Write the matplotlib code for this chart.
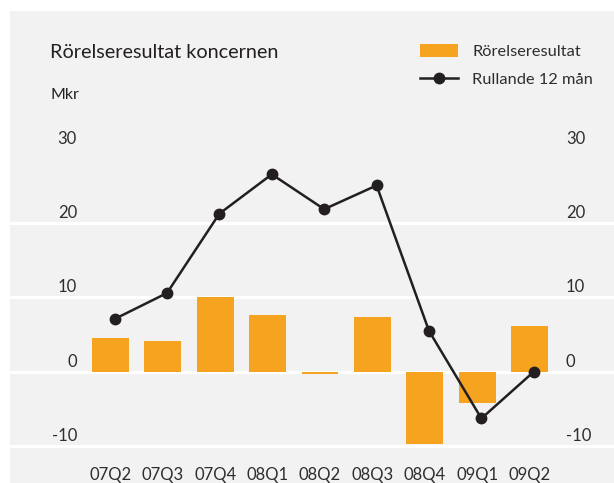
import matplotlib
matplotlib.use("Agg")
import matplotlib.pyplot as plt
import numpy as np
from matplotlib.transforms import ScaledTranslation
from matplotlib.patches import Patch
from matplotlib.lines import Line2D

plt.rcParams['font.family'] = ['Lato', 'DejaVu Sans']

quarters = ["07Q2", "07Q3", "07Q4", "08Q1", "08Q2", "08Q3", "08Q4", "09Q1", "09Q2"]
rorelseresultat = [4.5, 4.1, 10.1, 7.7, -0.3, 7.4, -9.7, -4.2, 6.2]
rullande_12 = [7.1, 10.6, 21.3, 26.6, 21.9, 25.1, 5.5, -6.3, 0.0]
yticks = [-10, 0, 10, 20, 30]
gridlines = [-10, 0, 10, 20]

title = "Rörelseresultat koncernen"
unit = "Mkr"
bar_label = "Rörelseresultat"
line_label = "Rullande 12 mån"

ORANGE = "#F6A41F"
BG = "#F2F2F2"
DARK = "#231F20"
TXT = "#2E2E2E"

W, H = 614, 483
fig = plt.figure(figsize=(W / 100, H / 100), dpi=100, facecolor="white")
# gray panel (pixels: x 10..614, y 11..483 from top)
AX_L = 10
ax = fig.add_axes([AX_L / W, 0, 1 - AX_L / W, (H - 11) / H])
ax.set_facecolor(BG)
for s in ax.spines.values():
    s.set_visible(False)

x = np.arange(len(quarters))
px_x = 52.4
xmin = -(110.4 - AX_L) / px_x
ax.set_xlim(xmin, xmin + (W - AX_L) / px_x)
px_y = 7.42
ax.set_ylim(-(483 - 371.7) / px_y, (371.7 - 11) / px_y)

for g in gridlines:
    ax.axhline(g, color="white", lw=2.2, zorder=1)

ax.bar(x, rorelseresultat, width=0.70, color=ORANGE, zorder=2)
ax.plot(x + 0.08, rullande_12, color=DARK, lw=1.8, marker="o", ms=7.5,
        markerfacecolor=DARK, markeredgecolor=DARK, zorder=3)

ax.set_xticks(x)
ax.set_xticklabels(quarters, fontsize=12, color=TXT)
ax.tick_params(axis="x", length=0, pad=-11.5)
ax.set_yticks([])

up = ScaledTranslation(0, 10 / 100, fig.dpi_scale_trans)
ax_w = W - AX_L
for v in yticks:
    ax.text((77 - AX_L) / ax_w, v, f"{v}", transform=ax.get_yaxis_transform() + up,
            ha="right", va="center", fontsize=12, color=TXT)
    ax.text((566 - AX_L) / ax_w, v, f"{v}", transform=ax.get_yaxis_transform() + up,
            ha="left", va="center", fontsize=12, color=TXT)

fig.text(50 / W, 1 - 53 / H, title, fontsize=14.3, color=DARK, ha="left", va="center")
fig.text(51 / W, 1 - 95 / H, unit, fontsize=11.5, color=DARK, ha="left", va="center")

handles = [Patch(facecolor=ORANGE, edgecolor="none"),
           Line2D([0], [0], color=DARK, lw=1.8, marker="o", ms=7.5)]
leg = fig.legend(handles, [bar_label, line_label], loc="upper left",
                 bbox_to_anchor=(420 / W, 1 - 44 / H), frameon=False, fontsize=11.8,
                 handlelength=2.3, handleheight=0.85, handletextpad=0.9,
                 labelspacing=0.75, borderpad=0, borderaxespad=0)
for t in leg.get_texts():
    t.set_color(TXT)

fig.savefig("out.png", dpi=100, facecolor="white")
